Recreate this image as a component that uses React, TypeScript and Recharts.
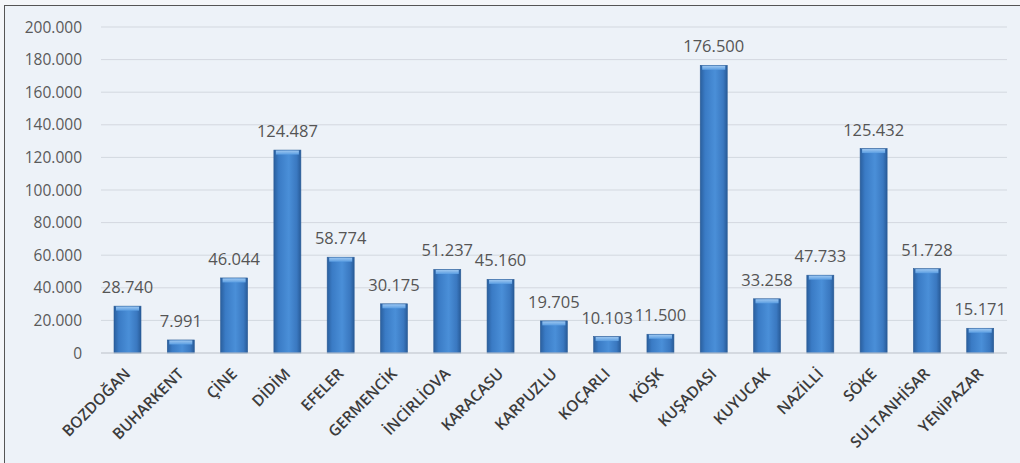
import React from "react";
import { BarChart, Bar, XAxis, YAxis, CartesianGrid, LabelList } from "recharts";

const DISTRICTS = [
  "BOZDOĞAN", "BUHARKENT", "ÇİNE", "DİDİM", "EFELER", "GERMENCİK", "İNCİRLİOVA",
  "KARACASU", "KARPUZLU", "KOÇARLI", "KÖŞK", "KUŞADASI", "KUYUCAK", "NAZİLLİ",
  "SÖKE", "SULTANHİSAR", "YENİPAZAR",
];
const VALUES = [
  28740, 7991, 46044, 124487, 58774, 30175, 51237, 45160, 19705, 10103, 11500,
  176500, 33258, 47733, 125432, 51728, 15171,
];
const Y_TICKS = [0, 20000, 40000, 60000, 80000, 100000, 120000, 140000, 160000, 180000, 200000];

const data = DISTRICTS.map((name, i) => ({ name, value: VALUES[i] }));

const fmt = (v: number) => String(v).replace(/\B(?=(\d{3})+(?!\d))/g, ".");

const FONT = "'Open Sans', sans-serif";

function XTick(props: any) {
  const { x, y, payload } = props;
  return (
    <g transform={`translate(${x - 4},${y + 6})`}>
      <text
        transform="rotate(-45)"
        textAnchor="end"
        dy={11}
        fontFamily={FONT}
        fontSize={15.5}
        fontWeight={600}
        fill="#3c3c3c"
      >
        {payload.value}
      </text>
    </g>
  );
}

// bar with a slight bevel: darker sides, lighter top edge
function BevelBar(props: any) {
  const { x, y, width, height } = props;
  if (!height || height <= 0) return null;
  const cap = Math.min(4, height);
  return (
    <g>
      <rect x={x} y={y} width={width} height={height} fill="url(#barGrad)" stroke="#2b5c96" strokeWidth={0.6} />
      <rect x={x + 2} y={y + 0.5} width={width - 4} height={cap} fill="url(#capGrad)" />
    </g>
  );
}

export default function App() {
  return (
    <div style={{ position: "absolute", left: 0, top: 0, width: 1020, height: 463, background: "#f4f6f9" }}>
      <div
        style={{
          position: "absolute",
          left: 4,
          top: 5,
          width: 1030,
          height: 470,
          background: "#edf2f8",
          borderLeft: "1.5px solid #555",
          borderTop: "1.5px solid #555",
        }}
      />
      <BarChart
        width={1020}
        height={463}
        data={data}
        margin={{ top: 27, right: 13, bottom: 0, left: 0 }}
        barSize={27}
        style={{ position: "absolute", left: 0, top: 0 }}
      >
        <defs>
          <linearGradient id="barGrad" x1="0" y1="0" x2="1" y2="0">
            <stop offset="0%" stopColor="#2a5f9e" />
            <stop offset="18%" stopColor="#3a7bc5" />
            <stop offset="55%" stopColor="#4a8fd8" />
            <stop offset="85%" stopColor="#3a78c0" />
            <stop offset="100%" stopColor="#285b98" />
          </linearGradient>
          <linearGradient id="capGrad" x1="0" y1="0" x2="0" y2="1">
            <stop offset="0%" stopColor="#9cc6f0" />
            <stop offset="100%" stopColor="#5b9ee2" />
          </linearGradient>
        </defs>
        <CartesianGrid vertical={false} stroke="#d3d8df" />
        <XAxis
          dataKey="name"
          interval={0}
          height={110}
          tick={<XTick />}
          tickLine={false}
          axisLine={{ stroke: "#c8cdd4" }}
        />
        <YAxis
          width={101}
          domain={[0, 200000]}
          ticks={Y_TICKS}
          tickFormatter={fmt}
          tickLine={false}
          axisLine={false}
          tickMargin={13}
          tick={{ fontFamily: FONT, fontSize: 15.5, fill: "#5a5a5a" }}
        />
        <Bar dataKey="value" fill="#3d7fc8" shape={<BevelBar />} isAnimationActive={false}>
          <LabelList
            dataKey="value"
            position="top"
            offset={13}
            formatter={(v: any) => fmt(Number(v))}
            style={{ fontFamily: FONT, fontSize: 16.5, fill: "#555" }}
          />
        </Bar>
      </BarChart>
    </div>
  );
}
